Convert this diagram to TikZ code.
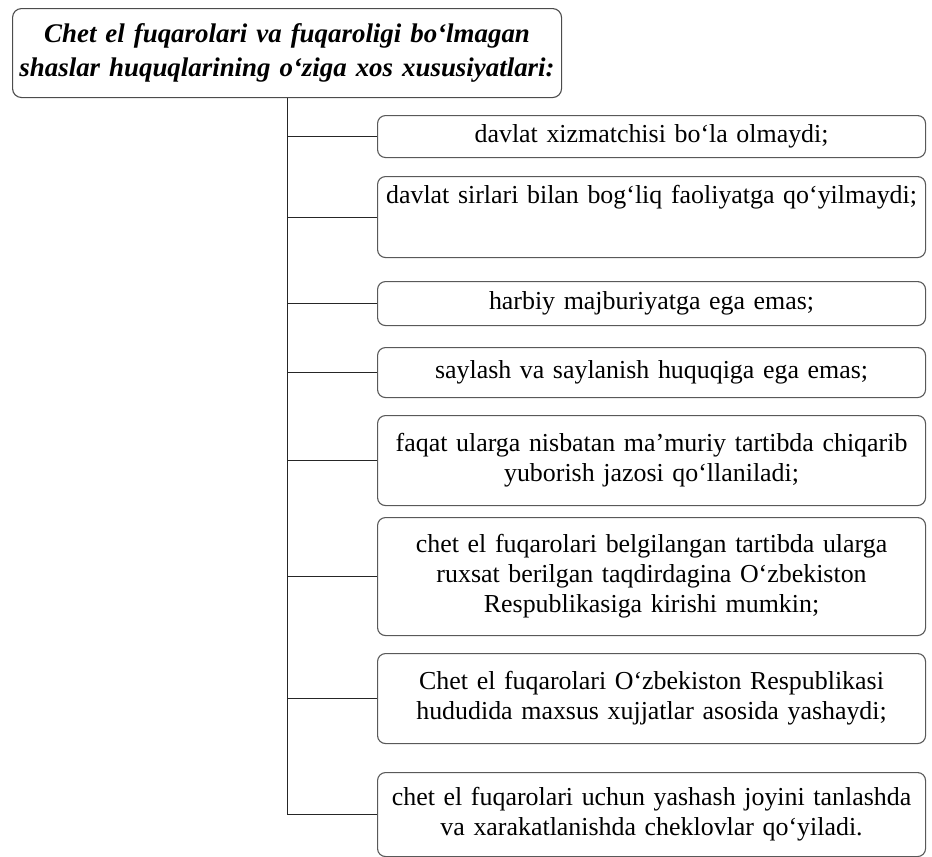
\documentclass[tikz,border=0pt]{standalone}
\usepackage{fontspec}
\setmainfont{Liberation Serif}
\usetikzlibrary{positioning}

\begin{document}
\begin{tikzpicture}[
  x=1bp, y=-1bp,
  line width=1.1bp,
  headbox/.style={draw=black!70, rounded corners=9bp, minimum width=549bp, minimum height=89bp, inner sep=0pt, text width=547bp, align=center, anchor=north west, font=\fontsize{27}{34}\selectfont\bfseries\itshape},
  itembox/.style={draw=black!65, rounded corners=8bp, minimum width=548bp, inner sep=0pt, text width=546bp, align=center, anchor=north west, font=\fontsize{26}{30}\selectfont},
  branch/.style={draw=black!85, line width=1bp}
]
  \useasboundingbox (0,0) rectangle (932,857);

  % title box
  \node[headbox] (head) at (12,8) {Chet el fuqarolari va fuqaroligi bo‘lmagan\\shaslar huquqlarining o‘ziga xos xususiyatlari:};

  % list of features, one box per item
  \node[itembox, minimum height=42bp] (b1) at (377,115) {davlat xizmatchisi bo‘la olmaydi;};
  \node[itembox, text height=27bp, text depth=54bp] (b2) at (377,176) {davlat sirlari bilan bog‘liq faoliyatga qo‘yilmaydi;};
  \node[itembox, minimum height=44bp] (b3) at (377,281) {harbiy majburiyatga ega emas;};
  \node[itembox, minimum height=50bp] (b4) at (377,347) {saylash va saylanish huquqiga ega emas;};
  \node[itembox, minimum height=90bp] (b5) at (377,415) {faqat ularga nisbatan ma’muriy tartibda chiqarib\\yuborish jazosi qo‘llaniladi;};
  \node[itembox, minimum height=118bp] (b6) at (377,517) {chet el fuqarolari belgilangan tartibda ularga\\ruxsat berilgan taqdirdagina O‘zbekiston\\Respublikasiga kirishi mumkin;};
  \node[itembox, minimum height=90bp] (b7) at (377,653) {Chet el fuqarolari O‘zbekiston Respublikasi\\hududida maxsus xujjatlar asosida yashaydi;};
  \node[itembox, minimum height=84bp] (b8) at (377,772) {chet el fuqarolari uchun yashash joyini tanlashda\\va xarakatlanishda cheklovlar qo‘yiladi.};

  % trunk and branches
  \draw[branch] (head.south) |- (b8.west);
  \foreach \n in {1,...,7} {
    \draw[branch] (head.south |- b\n.west) -- (b\n.west);
  }
\end{tikzpicture}
\end{document}
